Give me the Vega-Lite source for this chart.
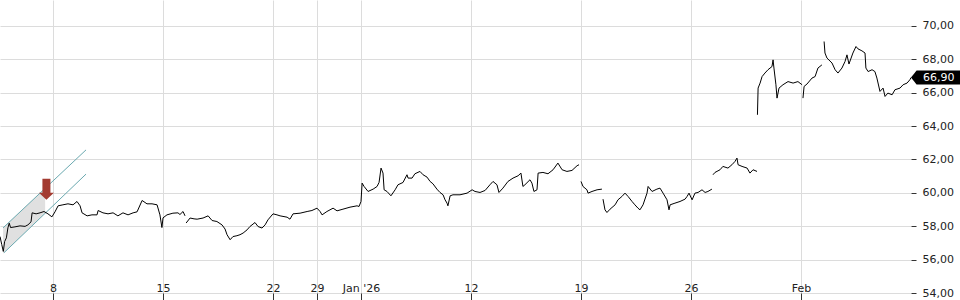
{
  "$schema": "https://vega.github.io/schema/vega-lite/v6.json",
  "width": 911,
  "height": 293,
  "autosize": {"type": "none"},
  "padding": {"left": 0, "top": 0, "right": 49, "bottom": 7},
  "background": "white",
  "config": {
    "view": {"stroke": null},
    "font": "DejaVu Sans"
  },
  "datasets": {
    "price": [
      {"d": -2.41, "v": 57.38, "s": 1}, {"d": -2.33, "v": 56.9, "s": 1}, {"d": -2.26, "v": 56.49, "s": 1}, {"d": -2.2, "v": 57.08, "s": 1},
      {"d": -2.12, "v": 57.3, "s": 1}, {"d": -2.05, "v": 57.9, "s": 1}, {"d": -1.99, "v": 58.18, "s": 1}, {"d": -1.93, "v": 57.92, "s": 1},
      {"d": -1.73, "v": 57.96, "s": 1}, {"d": -1.5, "v": 58.02, "s": 1}, {"d": -1.27, "v": 57.99, "s": 1}, {"d": -1.14, "v": 58.08, "s": 1},
      {"d": -1.0, "v": 58.26, "s": 1}, {"d": -0.95, "v": 58.8, "s": 1}, {"d": -0.77, "v": 58.74, "s": 1}, {"d": -0.59, "v": 58.8, "s": 1},
      {"d": -0.41, "v": 58.88, "s": 1}, {"d": -0.23, "v": 58.74, "s": 1}, {"d": -0.05, "v": 58.56, "s": 1}, {"d": 0.09, "v": 58.86, "s": 1},
      {"d": 0.23, "v": 59.22, "s": 1}, {"d": 0.45, "v": 59.28, "s": 1}, {"d": 0.68, "v": 59.34, "s": 1}, {"d": 0.91, "v": 59.28, "s": 1},
      {"d": 1.09, "v": 59.48, "s": 1}, {"d": 1.23, "v": 59.22, "s": 1}, {"d": 1.32, "v": 58.8, "s": 1}, {"d": 1.55, "v": 58.62, "s": 1},
      {"d": 1.77, "v": 58.68, "s": 1}, {"d": 2.0, "v": 58.68, "s": 1}, {"d": 2.05, "v": 58.94, "s": 1}, {"d": 2.27, "v": 58.8, "s": 1},
      {"d": 2.5, "v": 58.74, "s": 1}, {"d": 2.73, "v": 58.8, "s": 1}, {"d": 2.95, "v": 58.62, "s": 1}, {"d": 3.18, "v": 58.8, "s": 1},
      {"d": 3.41, "v": 58.68, "s": 1}, {"d": 3.64, "v": 58.8, "s": 1}, {"d": 3.82, "v": 58.86, "s": 1}, {"d": 4.05, "v": 59.54, "s": 1},
      {"d": 4.27, "v": 59.34, "s": 1}, {"d": 4.5, "v": 59.34, "s": 1}, {"d": 4.73, "v": 59.28, "s": 1}, {"d": 4.86, "v": 58.68, "s": 1},
      {"d": 4.95, "v": 57.92, "s": 1}, {"d": 5.0, "v": 58.5, "s": 1}, {"d": 5.18, "v": 58.68, "s": 1}, {"d": 5.45, "v": 58.78, "s": 1},
      {"d": 5.68, "v": 58.8, "s": 1}, {"d": 5.77, "v": 58.7, "s": 1}, {"d": 5.91, "v": 58.88, "s": 1}, {"d": 6.0, "v": 58.62, "s": 1},

      {"d": 6.05, "v": 58.19, "s": 2}, {"d": 6.23, "v": 58.49, "s": 2}, {"d": 6.41, "v": 58.44, "s": 2}, {"d": 6.55, "v": 58.42, "s": 2},
      {"d": 6.82, "v": 58.49, "s": 2}, {"d": 7.05, "v": 58.62, "s": 2}, {"d": 7.23, "v": 58.34, "s": 2}, {"d": 7.45, "v": 58.28, "s": 2},
      {"d": 7.68, "v": 58.08, "s": 2}, {"d": 7.82, "v": 57.83, "s": 2}, {"d": 7.91, "v": 57.49, "s": 2}, {"d": 8.05, "v": 57.19, "s": 2},
      {"d": 8.18, "v": 57.38, "s": 2}, {"d": 8.36, "v": 57.43, "s": 2}, {"d": 8.5, "v": 57.49, "s": 2}, {"d": 8.64, "v": 57.59, "s": 2},
      {"d": 8.82, "v": 57.78, "s": 2}, {"d": 8.95, "v": 57.98, "s": 2}, {"d": 9.18, "v": 58.22, "s": 2}, {"d": 9.32, "v": 57.98, "s": 2},
      {"d": 9.5, "v": 57.89, "s": 2}, {"d": 9.64, "v": 58.08, "s": 2}, {"d": 9.77, "v": 58.38, "s": 2}, {"d": 10.0, "v": 58.74, "s": 2},
      {"d": 10.18, "v": 58.68, "s": 2}, {"d": 10.32, "v": 58.62, "s": 2}, {"d": 10.64, "v": 58.54, "s": 2}, {"d": 10.77, "v": 58.42, "s": 2},
      {"d": 10.91, "v": 58.74, "s": 2}, {"d": 11.23, "v": 58.78, "s": 2}, {"d": 11.55, "v": 58.88, "s": 2}, {"d": 11.77, "v": 58.94, "s": 2},
      {"d": 12.0, "v": 59.08, "s": 2}, {"d": 12.14, "v": 58.88, "s": 2}, {"d": 12.23, "v": 58.68, "s": 2}, {"d": 12.45, "v": 58.88, "s": 2},
      {"d": 12.73, "v": 59.08, "s": 2}, {"d": 12.91, "v": 58.92, "s": 2}, {"d": 13.18, "v": 59.02, "s": 2}, {"d": 13.5, "v": 59.14, "s": 2},
      {"d": 13.82, "v": 59.22, "s": 2}, {"d": 13.91, "v": 59.18, "s": 2}, {"d": 14.0, "v": 59.48, "s": 2}, {"d": 14.05, "v": 60.58, "s": 2},
      {"d": 14.14, "v": 60.38, "s": 2}, {"d": 14.32, "v": 60.08, "s": 2}, {"d": 14.55, "v": 60.22, "s": 2}, {"d": 14.73, "v": 60.38, "s": 2},
      {"d": 14.82, "v": 60.62, "s": 2}, {"d": 14.91, "v": 61.48, "s": 2}, {"d": 15.0, "v": 61.18, "s": 2}, {"d": 15.05, "v": 60.18, "s": 2},
      {"d": 15.18, "v": 60.08, "s": 2}, {"d": 15.36, "v": 59.82, "s": 2}, {"d": 15.55, "v": 60.18, "s": 2}, {"d": 15.68, "v": 60.48, "s": 2},
      {"d": 15.91, "v": 60.62, "s": 2}, {"d": 16.09, "v": 61.08, "s": 2}, {"d": 16.14, "v": 60.88, "s": 2}, {"d": 16.32, "v": 60.88, "s": 2},
      {"d": 16.45, "v": 61.14, "s": 2}, {"d": 16.68, "v": 61.28, "s": 2}, {"d": 16.82, "v": 61.08, "s": 2}, {"d": 17.0, "v": 60.94, "s": 2},
      {"d": 17.14, "v": 60.68, "s": 2}, {"d": 17.27, "v": 60.54, "s": 2}, {"d": 17.45, "v": 60.22, "s": 2}, {"d": 17.59, "v": 60.02, "s": 2},
      {"d": 17.73, "v": 59.88, "s": 2}, {"d": 17.82, "v": 59.58, "s": 2}, {"d": 17.91, "v": 59.38, "s": 2}, {"d": 17.95, "v": 59.22, "s": 2},
      {"d": 18.05, "v": 59.82, "s": 2}, {"d": 18.18, "v": 59.88, "s": 2}, {"d": 18.5, "v": 59.88, "s": 2}, {"d": 18.82, "v": 59.98, "s": 2},
      {"d": 19.05, "v": 60.18, "s": 2}, {"d": 19.18, "v": 60.08, "s": 2}, {"d": 19.41, "v": 60.02, "s": 2}, {"d": 19.64, "v": 60.14, "s": 2},
      {"d": 19.86, "v": 60.48, "s": 2}, {"d": 20.0, "v": 60.68, "s": 2}, {"d": 20.18, "v": 60.48, "s": 2}, {"d": 20.27, "v": 60.02, "s": 2},
      {"d": 20.45, "v": 60.28, "s": 2}, {"d": 20.68, "v": 60.68, "s": 2}, {"d": 20.91, "v": 60.88, "s": 2}, {"d": 21.14, "v": 61.02, "s": 2},
      {"d": 21.27, "v": 61.18, "s": 2}, {"d": 21.36, "v": 60.38, "s": 2}, {"d": 21.45, "v": 60.48, "s": 2}, {"d": 21.68, "v": 60.78, "s": 2},
      {"d": 21.77, "v": 60.58, "s": 2}, {"d": 21.86, "v": 60.08, "s": 2}, {"d": 22.0, "v": 60.18, "s": 2}, {"d": 22.05, "v": 61.18, "s": 2},
      {"d": 22.27, "v": 61.22, "s": 2}, {"d": 22.5, "v": 61.14, "s": 2}, {"d": 22.73, "v": 61.38, "s": 2}, {"d": 22.95, "v": 61.78, "s": 2},
      {"d": 23.14, "v": 61.38, "s": 2}, {"d": 23.36, "v": 61.28, "s": 2}, {"d": 23.59, "v": 61.34, "s": 2}, {"d": 23.82, "v": 61.62, "s": 2},
      {"d": 23.91, "v": 61.68, "s": 2},

      {"d": 24.0, "v": 60.68, "s": 3}, {"d": 24.09, "v": 60.38, "s": 3}, {"d": 24.27, "v": 60.18, "s": 3}, {"d": 24.32, "v": 59.98, "s": 3},
      {"d": 24.5, "v": 60.08, "s": 3}, {"d": 24.73, "v": 60.18, "s": 3}, {"d": 24.95, "v": 60.22, "s": 3},

      {"d": 25.0, "v": 59.62, "s": 4}, {"d": 25.09, "v": 58.98, "s": 4}, {"d": 25.18, "v": 58.82, "s": 4}, {"d": 25.32, "v": 59.02, "s": 4},
      {"d": 25.55, "v": 59.28, "s": 4}, {"d": 25.68, "v": 59.58, "s": 4}, {"d": 25.86, "v": 59.78, "s": 4}, {"d": 26.0, "v": 59.98, "s": 4},
      {"d": 26.14, "v": 59.78, "s": 4}, {"d": 26.32, "v": 59.48, "s": 4}, {"d": 26.45, "v": 59.28, "s": 4}, {"d": 26.59, "v": 59.08, "s": 4},
      {"d": 26.68, "v": 58.98, "s": 4}, {"d": 26.82, "v": 59.28, "s": 4}, {"d": 27.0, "v": 59.98, "s": 4}, {"d": 27.05, "v": 60.38, "s": 4},
      {"d": 27.23, "v": 60.08, "s": 4}, {"d": 27.45, "v": 60.22, "s": 4}, {"d": 27.59, "v": 60.28, "s": 4}, {"d": 27.73, "v": 59.98, "s": 4},
      {"d": 27.91, "v": 59.58, "s": 4}, {"d": 28.0, "v": 58.98, "s": 4}, {"d": 28.05, "v": 59.28, "s": 4}, {"d": 28.27, "v": 59.38, "s": 4},
      {"d": 28.5, "v": 59.48, "s": 4}, {"d": 28.73, "v": 59.62, "s": 4}, {"d": 28.82, "v": 59.78, "s": 4}, {"d": 28.91, "v": 59.98, "s": 4},
      {"d": 29.05, "v": 59.58, "s": 4}, {"d": 29.18, "v": 59.98, "s": 4}, {"d": 29.32, "v": 60.02, "s": 4}, {"d": 29.5, "v": 60.18, "s": 4},
      {"d": 29.64, "v": 60.02, "s": 4}, {"d": 29.77, "v": 60.08, "s": 4}, {"d": 29.95, "v": 60.22, "s": 4},

      {"d": 30.0, "v": 61.08, "s": 5}, {"d": 30.09, "v": 61.22, "s": 5}, {"d": 30.32, "v": 61.38, "s": 5}, {"d": 30.45, "v": 61.58, "s": 5},
      {"d": 30.68, "v": 61.48, "s": 5}, {"d": 30.86, "v": 61.68, "s": 5}, {"d": 31.0, "v": 61.88, "s": 5}, {"d": 31.09, "v": 62.08, "s": 5},
      {"d": 31.14, "v": 61.68, "s": 5}, {"d": 31.32, "v": 61.58, "s": 5}, {"d": 31.55, "v": 61.48, "s": 5}, {"d": 31.68, "v": 61.18, "s": 5},
      {"d": 31.82, "v": 61.38, "s": 5}, {"d": 32.0, "v": 61.28, "s": 5},

      {"d": 32.02, "v": 64.67, "s": 6}, {"d": 32.05, "v": 66.27, "s": 6}, {"d": 32.14, "v": 66.57, "s": 6}, {"d": 32.23, "v": 66.96, "s": 6},
      {"d": 32.36, "v": 67.17, "s": 6}, {"d": 32.5, "v": 67.37, "s": 6}, {"d": 32.68, "v": 67.56, "s": 6}, {"d": 32.73, "v": 67.96, "s": 6},
      {"d": 32.77, "v": 67.47, "s": 6}, {"d": 32.86, "v": 66.47, "s": 6}, {"d": 32.91, "v": 65.67, "s": 6}, {"d": 33.0, "v": 66.27, "s": 6},
      {"d": 33.18, "v": 66.47, "s": 6}, {"d": 33.41, "v": 66.66, "s": 6}, {"d": 33.64, "v": 66.57, "s": 6}, {"d": 33.86, "v": 66.66, "s": 6},
      {"d": 34.05, "v": 66.47, "s": 6},

      {"d": 34.09, "v": 65.67, "s": 7}, {"d": 34.14, "v": 66.37, "s": 7}, {"d": 34.27, "v": 66.51, "s": 7}, {"d": 34.5, "v": 66.87, "s": 7},
      {"d": 34.64, "v": 66.96, "s": 7}, {"d": 34.77, "v": 67.47, "s": 7}, {"d": 34.95, "v": 67.66, "s": 7},

      {"d": 35.05, "v": 69.06, "s": 8}, {"d": 35.09, "v": 68.37, "s": 8}, {"d": 35.18, "v": 68.07, "s": 8}, {"d": 35.41, "v": 67.77, "s": 8},
      {"d": 35.55, "v": 67.37, "s": 8}, {"d": 35.68, "v": 67.17, "s": 8}, {"d": 35.86, "v": 67.47, "s": 8}, {"d": 36.0, "v": 67.86, "s": 8},
      {"d": 36.09, "v": 68.26, "s": 8}, {"d": 36.18, "v": 67.71, "s": 8}, {"d": 36.36, "v": 68.37, "s": 8}, {"d": 36.5, "v": 68.76, "s": 8},
      {"d": 36.59, "v": 68.62, "s": 8}, {"d": 36.77, "v": 68.5, "s": 8}, {"d": 36.91, "v": 68.37, "s": 8}, {"d": 36.95, "v": 67.47, "s": 8},
      {"d": 37.05, "v": 67.26, "s": 8}, {"d": 37.23, "v": 67.37, "s": 8}, {"d": 37.36, "v": 67.26, "s": 8}, {"d": 37.45, "v": 66.87, "s": 8},
      {"d": 37.59, "v": 66.07, "s": 8}, {"d": 37.73, "v": 66.27, "s": 8}, {"d": 37.82, "v": 65.77, "s": 8}, {"d": 37.95, "v": 65.97, "s": 8},
      {"d": 38.14, "v": 65.87, "s": 8}, {"d": 38.27, "v": 66.17, "s": 8}, {"d": 38.5, "v": 66.27, "s": 8}, {"d": 38.64, "v": 66.47, "s": 8},
      {"d": 38.82, "v": 66.57, "s": 8}, {"d": 38.95, "v": 66.77, "s": 8}, {"d": 39.0, "v": 66.9, "s": 8}
    ],
    "channelFill": [
      {"d": -2.27, "v": 57.9, "v2": 56.36},
      {"d": -0.36, "v": 60.27, "v2": 58.77}
    ],
    "channelLines": [
      {"e": "upper", "d": -2.27, "v": 57.9},
      {"e": "upper", "d": 1.5, "v": 62.57},
      {"e": "lower", "d": -2.23, "v": 56.41},
      {"e": "lower", "d": 1.5, "v": 61.12}
    ],
    "signal": [{"d": -0.3, "v": 59.58}],
    "last": [{"d": 39.0, "v": 66.9, "label": "66,90"}]
  },
  "encoding": {
    "x": {
      "field": "d",
      "type": "quantitative",
      "scale": {"domain": [-2.41, 39], "nice": false, "zero": false},
      "axis": {
        "title": null,
        "orient": "bottom",
        "values": [0, 5, 10, 12, 14, 19, 24, 29, 34],
        "labelExpr": "datum.value == 0 ? '8' : datum.value == 5 ? '15' : datum.value == 10 ? '22' : datum.value == 12 ? '29' : datum.value == 14 ? \"Jan '26\" : datum.value == 19 ? '12' : datum.value == 24 ? '19' : datum.value == 29 ? '26' : 'Feb'",
        "grid": true,
        "gridColor": "#dcdcdc",
        "gridWidth": 1,
        "domain": false,
        "ticks": true,
        "tickSize": 7,
        "tickColor": "#333333",
        "labelFont": "DejaVu Sans",
        "labelFontSize": 11,
        "labelColor": "#222222",
        "labelBaseline": "alphabetic",
        "labelPadding": -9,
        "labelFlush": false,
        "labelOverlap": false
      }
    },
    "y": {
      "field": "v",
      "type": "quantitative",
      "scale": {"domain": [54, 71.545], "nice": false, "zero": false},
      "axis": {
        "title": null,
        "orient": "right",
        "values": [54, 56, 58, 60, 62, 64, 66, 68, 70],
        "labelExpr": "replace(format(datum.value, '.2f'), '.', ',')",
        "grid": true,
        "gridColor": "#dcdcdc",
        "gridWidth": 1,
        "domain": false,
        "ticks": true,
        "tickSize": 5,
        "tickColor": "#333333",
        "labelFont": "DejaVu Sans",
        "labelFontSize": 11,
        "labelColor": "#222222",
        "labelPadding": 6,
        "labelBaseline": "middle",
        "labelFlush": false,
        "labelOverlap": false
      }
    }
  },
  "layer": [
    {
      "data": {"name": "channelFill"},
      "mark": {"type": "area", "color": "#dddddd", "opacity": 0.9},
      "encoding": {"y2": {"field": "v2"}}
    },
    {
      "data": {"name": "channelLines"},
      "mark": {"type": "line", "color": "#6aa9b0", "strokeWidth": 1},
      "encoding": {"detail": {"field": "e", "type": "nominal"}}
    },
    {
      "data": {"name": "price"},
      "mark": {"type": "line", "color": "#000000", "strokeWidth": 1, "interpolate": "linear"},
      "encoding": {"detail": {"field": "s", "type": "nominal"}}
    },
    {
      "data": {"name": "signal"},
      "mark": {
        "type": "point",
        "shape": "M-4,-21 L4,-21 L4,-7 L7.5,-7 L0,0 L-7.5,-7 L-4,-7 Z",
        "size": 4,
        "filled": true,
        "color": "#a33b31",
        "opacity": 1,
        "strokeWidth": 0
      },
      "encoding": {}
    },
    {
      "data": {"name": "last"},
      "mark": {
        "type": "point",
        "shape": "M0,0 L0.8,-1 L7,-1 L7,1 L0.8,1 Z",
        "size": 196,
        "filled": true,
        "color": "#000000",
        "opacity": 1,
        "strokeWidth": 0
      },
      "encoding": {}
    },
    {
      "data": {"name": "last"},
      "mark": {
        "type": "text",
        "color": "#ffffff",
        "font": "DejaVu Sans",
        "fontSize": 11,
        "align": "left",
        "baseline": "middle",
        "dx": 12
      },
      "encoding": {"text": {"field": "label", "type": "nominal"}}
    }
  ]
}
